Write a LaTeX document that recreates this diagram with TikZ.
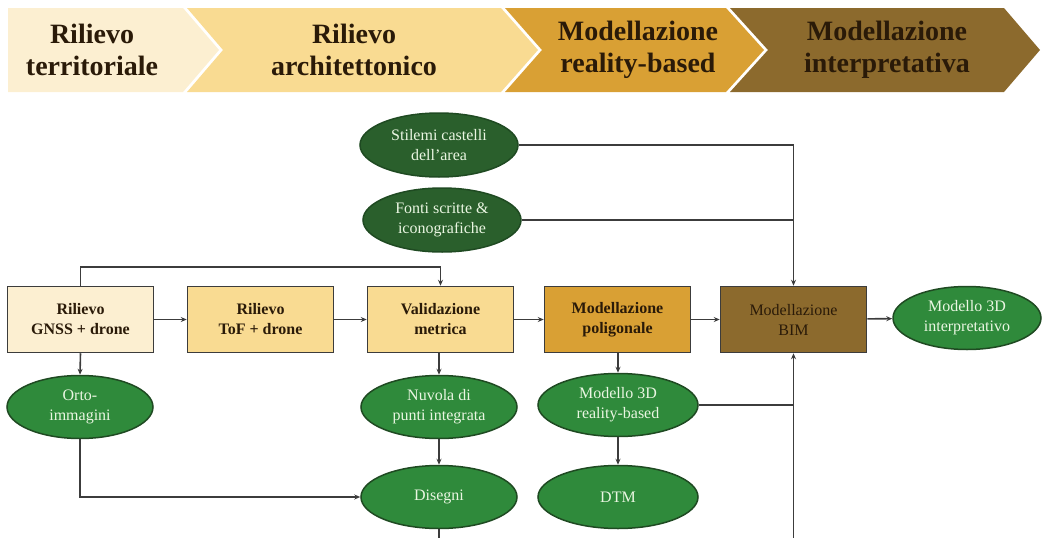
\documentclass[tikz,border=0pt]{standalone}
\usepackage{fontspec}
\setmainfont{Liberation Serif}
\usetikzlibrary{shapes.geometric,arrows.meta,calc}
\definecolor{cream}{HTML}{FCEFD1}
\definecolor{lyellow}{HTML}{F9DB92}
\definecolor{golden}{HTML}{D9A034}
\definecolor{brownc}{HTML}{8C6A2D}
\definecolor{greenL}{HTML}{2F8A3B}
\definecolor{greenD}{HTML}{2A5F2C}
\definecolor{greenE}{HTML}{1F4A22}
\definecolor{txtG}{HTML}{EAF6E2}
\definecolor{linec}{HTML}{3C3C3C}
\definecolor{txtD}{HTML}{2A1A08}
\tikzset{
  chev/.style={draw=white,line width=2pt},
  chevtxt/.style={font=\fontsize{28}{32}\selectfont\bfseries,text=txtD,align=center},
  boxn/.style={rectangle,draw=linec,line width=1.5pt,minimum width=146pt,minimum height=66pt,inner sep=0pt,align=center,font=\fontsize{16}{20}\selectfont\bfseries,text=txtD},
  ell/.style={ellipse,draw=greenE,line width=1.5pt,fill=greenL,minimum width=156pt,minimum height=63pt,inner sep=0pt,align=center,font=\fontsize{16}{20}\selectfont,text=txtG},
  ellD/.style={ell,fill=greenD},
  conn/.style={draw=linec,line width=1.6pt},
  arr/.style={conn,-{Stealth[length=6pt,width=5pt]}}
}
\begin{document}
\begin{tikzpicture}[x=1pt,y=-1pt]
\useasboundingbox (0,0) rectangle (1042,538);
% header chevrons
\fill[cream] (8,8) -- (183,8) -- (219,50) -- (183,92) -- (8,92) -- cycle;
\fill[lyellow] (187,8) -- (501,8) -- (538,50) -- (501,92) -- (187,92) -- (223,50) -- cycle;
\fill[golden] (505,8) -- (726,8) -- (764,50) -- (726,92) -- (505,92) -- (542,50) -- cycle;
\fill[brownc] (730,8) -- (1004,8) -- (1040,50) -- (1004,92) -- (730,92) -- (768,50) -- cycle;
\node[chevtxt] (h1) at (92,50) {Rilievo\\territoriale};
\node[chevtxt] (h2) at (354,50) {Rilievo\\architettonico};
\node[chevtxt] (h3) at (638,50) {Modellazione\\reality-based};
\node[chevtxt] (h4) at (887,50) {Modellazione\\interpretativa};
% boxes
\node[boxn,fill=cream] (b1) at (80.5,319.5) {Rilievo\\GNSS + drone};
\node[boxn,fill=lyellow] (b2) at (260.5,319.5) {Rilievo\\ToF + drone};
\node[boxn,fill=lyellow] (b3) at (440.5,319.5) {Validazione\\metrica};
\node[boxn,fill=golden] (b4) at (617.5,319.5) {Modellazione\\poligonale};
\node[boxn,fill=brownc,font=\fontsize{16}{20}\selectfont] (b5) at (793.5,319.5) {Modellazione\\BIM};
% ellipses
\node[ellD,minimum width=158pt,minimum height=64pt] (st) at (439,145) {Stilemi castelli\\dell'area};
\node[ellD,minimum width=158pt,minimum height=64pt] (fo) at (442,220) {Fonti scritte \&\\iconografiche};
\node[ell,minimum width=146pt] (or) at (80,407) {Orto-\\immagini};
\node[ell] (nu) at (439,407) {Nuvola di\\punti integrata};
\node[ell] (di) at (439,497) {Disegni};
\node[ell,minimum width=160pt] (m3) at (618,405) {Modello 3D\\reality-based};
\node[ell,minimum width=160pt] (dt) at (618,497) {DTM};
\node[ell,minimum width=148pt] (mi) at (967,318) {Modello 3D\\interpretativo};
% connectors
\coordinate (top1) at (80.5,267);
\coordinate (bot1) at (793.5,538);
\coordinate (bot2) at (439,538);
\draw[arr] (b1.north) -- (top1) -| (b3.north);
\draw[arr] (b1) -- (b2);
\draw[arr] (b2) -- (b3);
\draw[arr] (b3) -- (b4);
\draw[arr] (b4) -- (b5);
\draw[arr] (b5) -- (mi);
\draw[arr] (st.east) -| (b5.north);
\draw[conn] (fo.east) -- (fo.east -| b5.north);
\draw[arr] (b1.south) -- (or.north);
\draw[arr] (b3.south -| nu.north) -- (nu.north);
\draw[arr] (nu) -- (di);
\draw[arr] (or.south) |- (di.west);
\draw[conn] (di.south) -- (bot2);
\draw[arr] (b4.south -| m3.north) -- (m3.north);
\draw[arr] (m3) -- (dt);
\draw[arr] (bot1) -- (b5.south);
\draw[conn] (m3.east) -- (m3.east -| b5.south);
\end{tikzpicture}
\end{document}
